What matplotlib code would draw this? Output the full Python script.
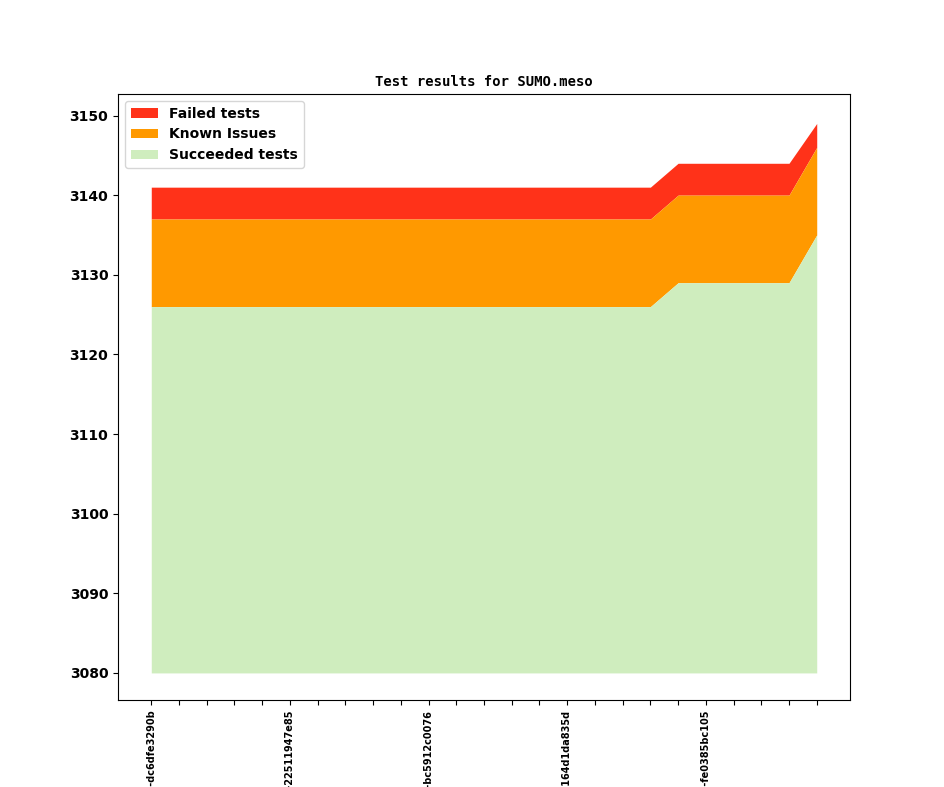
import matplotlib
matplotlib.use("Agg")
import matplotlib.pyplot as plt
import numpy as np

plt.rcParams['font.weight'] = 'bold'

succeeded = [3126] * 19 + [3129] * 5 + [3135]
known = [11] * 19 + [11] * 5 + [11]
failed = [4] * 19 + [4] * 5 + [3]
base = 3080
labels = {0: "v1_20_0+0560-dc6dfe3290b", 5: "v1_20_0+0565-2251194 7e85".replace(" ", ""),
          10: "v1_20_0+0570-bc5912c0076", 15: "v1_20_0+0575-164d1da835d",
          20: "v1_20_0+0580-fe0385bc105"}

x = np.arange(len(succeeded))
s = np.array(succeeded)
k = s + np.array(known)
f = k + np.array(failed)

fig = plt.figure(figsize=(9.44, 7.87), dpi=100)
ax = fig.add_axes([118 / 944, 87 / 787, 732 / 944, 606 / 787])
ax.fill_between(x, f, k, color='#ff3219', lw=0, label='Failed tests')
ax.fill_between(x, k, s, color='#ff9900', lw=0, label='Known Issues')
ax.fill_between(x, s, base, color='#cfedbe', lw=0, label='Succeeded tests')
ax.set_xticks(x)
ax.set_xticklabels([labels.get(i, "") for i in x], rotation=90, fontsize=7, va='top')
ax.set_xlim(-1.2, 25.2)
ax.set_ylim(3076.6, 3152.7)
ax.set_yticks(range(3080, 3151, 10))
ax.tick_params(axis='y', labelsize=10)
ax.set_title("Test results for SUMO.meso", fontsize=10, family='DejaVu Sans Mono', fontweight='bold')
ax.legend(loc='upper left', fontsize=10)
fig.savefig("out.png", dpi=100)
